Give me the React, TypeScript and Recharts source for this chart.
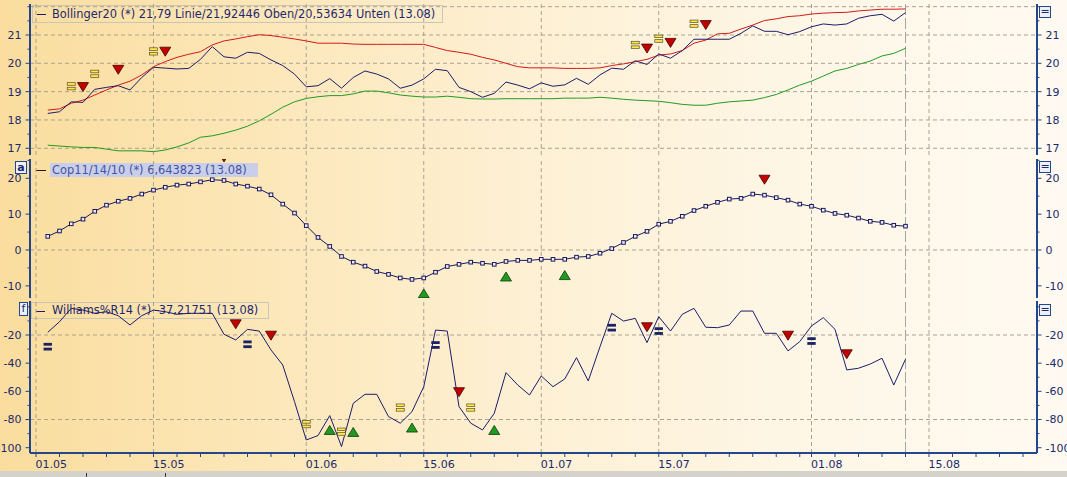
import React from 'react';
import { ComposedChart, Line, Scatter, XAxis, YAxis, ReferenceLine } from 'recharts';

// ---------- data ----------
const majorTickIdx = [0, 10, 23, 33, 43, 53, 66, 76];
const majorTickLabels = ['01.05', '15.05', '01.06', '15.06', '01.07', '15.07', '01.08', '15.08'];
const lastDayIdx = 74;

const closePrice = [
  18.23, 18.29, 18.64, 18.62, 19.08, 19.15, 19.21, 19.06, 19.5, 19.86,
  19.83, 19.8, 19.82, 20.14, 20.59, 20.23, 20.18, 20.39, 20.35, 20.12,
  19.92, 19.62, 19.17, 19.21, 19.46, 19.12, 19.5, 19.73, 19.62, 19.45,
  19.12, 19.23, 19.45, 19.79, 19.74, 19.15, 19.0, 18.8, 18.94, 19.34,
  19.23, 19.1, 19.31, 19.19, 19.24, 19.47, 19.26, 19.59, 19.83, 19.79,
  20.09, 19.96, 20.33, 20.18, 20.45, 20.85, 20.85, 20.85, 20.85, 21.06,
  21.32, 21.13, 21.13, 21.01, 21.12, 21.29, 21.39, 21.35, 21.39, 21.59,
  21.68, 21.73, 21.49, 21.79,
];
const upperBand = [
  18.35, 18.39, 18.59, 18.7, 18.88, 19.06, 19.23, 19.37, 19.59, 19.88,
  20.06, 20.21, 20.32, 20.41, 20.65, 20.79, 20.86, 20.94, 21.01, 20.98,
  20.92, 20.86, 20.79, 20.71, 20.71, 20.71, 20.68, 20.67, 20.67, 20.67,
  20.67, 20.67, 20.67, 20.56, 20.45, 20.39, 20.32, 20.21, 20.12, 20.0,
  19.88, 19.84, 19.84, 19.84, 19.82, 19.82, 19.82, 19.84, 19.92, 19.98,
  20.06, 20.14, 20.29, 20.33, 20.45, 20.71, 20.82, 21.04, 21.06, 21.21,
  21.35, 21.51, 21.57, 21.65, 21.68, 21.74, 21.77, 21.79, 21.8, 21.85,
  21.88, 21.91, 21.91, 21.92,
];
const lowerBand = [
  17.11, 17.08, 17.05, 17.03, 17.03, 16.97, 16.91, 16.91, 16.91, 16.88,
  16.94, 17.05, 17.19, 17.39, 17.44, 17.53, 17.64, 17.78, 17.97, 18.2,
  18.45, 18.64, 18.76, 18.82, 18.86, 18.86, 18.92, 19.02, 19.02, 18.96,
  18.88, 18.84, 18.81, 18.81, 18.84, 18.8, 18.75, 18.74, 18.74, 18.75,
  18.75, 18.75, 18.75, 18.75, 18.77, 18.77, 18.77, 18.8, 18.77, 18.73,
  18.7, 18.68, 18.66, 18.61, 18.55, 18.52, 18.52, 18.59, 18.64, 18.67,
  18.7, 18.79, 18.9, 19.06, 19.23, 19.37, 19.55, 19.73, 19.82, 19.96,
  20.08, 20.26, 20.35, 20.53,
];
const coppock = [
  3.8, 5.3, 7.3, 8.6, 10.8, 12.5, 13.6, 14.4, 15.6, 16.7,
  17.5, 18.1, 18.4, 19.0, 19.6, 19.4, 18.4, 17.8, 17.0, 15.4,
  12.8, 10.3, 6.8, 3.5, 1.0, -1.8, -3.4, -4.5, -6.0, -6.8,
  -7.8, -8.2, -7.8, -6.2, -4.6, -4.0, -3.4, -3.7, -4.0, -3.2,
  -2.9, -2.9, -2.6, -2.6, -2.6, -2.0, -1.8, -0.9, 0.4, 2.1,
  3.8, 5.2, 7.2, 8.0, 9.4, 11.0, 12.2, 13.3, 14.2, 14.4,
  15.6, 15.3, 14.6, 13.9, 12.8, 12.2, 11.1, 10.2, 9.7, 8.9,
  8.0, 7.7, 6.9, 6.64,
];
const williams = [
  -18.1, -10.6, -1.1, -2.3, -4.6, -3.5, -6.3, -12.9, -6.3, -2.3,
  -3.5, -5.3, -4.6, -4.6, -4.6, -19.5, -23.5, -16.0, -17.2, -30.6,
  -41.3, -67.3, -94.5, -91.4, -77.2, -99.2, -68.5, -62.1, -62.1, -77.9,
  -82.6, -74.4, -56.7, -16.5, -17.2, -70.8, -82.6, -87.4, -75.6, -46.7,
  -55.5, -62.6, -49.1, -56.7, -51.2, -36.1, -52.6, -28.3, -4.6, -10.1,
  -8.2, -25.4, -7.0, -17.2, -5.3, -1.1, -14.5, -14.8, -12.9, -3.0,
  -3.0, -18.8, -18.8, -31.3, -24.7, -13.6, -7.7, -16.0, -44.8, -43.6,
  -40.6, -36.5, -55.5, -37.2,
];

// signal markers: [day index, value]
const bollSell = [[4, 19.16], [7, 19.77], [11, 20.41], [52, 20.52], [54, 20.72], [57, 21.35]];
const bollNeutral = [[3, 19.19], [5, 19.63], [10, 20.42], [51, 20.65], [53, 20.87], [56, 21.4]];
const copBuy = [[33, -12.1], [40, -7.4], [45, -7.0]];
const copSell = [[16, 25.8], [62, 19.6]];
const wrSell = [[17, -12.4], [20, -20.5], [36, -60.6], [52, -14.5], [64, -20.5], [69, -33.7]];
const wrBuy = [[25, -87.4], [27, -88.8], [32, -85.7], [39, -87.4]];
const wrNeutralYellow = [[23, -83.3], [26, -88.6], [31, -71.5], [37, -71.5]];
const wrNeutralNavy = [[1, -28.3], [18, -26.6], [34, -27.1], [49, -14.8], [53, -17.2], [66, -24.3]];

const bollTicks = [17, 17.5, 18, 18.5, 19, 19.5, 20, 20.5, 21, 21.5, 22];
const bollLabels = [17, 18, 19, 20, 21];
const bollGrid = [17, 18, 19, 20, 21, 22];
const copTicks = [-10, -5, 0, 5, 10, 15, 20, 25];
const copLabels = [-10, 0, 10, 20];
const copGrid = [0];
const wrTicks = [-100, -90, -80, -70, -60, -50, -40, -30, -20, -10, 0];
const wrLabels = [-100, -80, -60, -40, -20];
const wrGrid = [-20, -80];

// ---------- style ----------
const FONT = '"DejaVu Sans", Verdana, sans-serif';
const BORDER = '#24468a';
const GRID = '#aaa291';
const AXIS_TEXT = '#1b2a6b';
const X_DOMAIN: [number, number] = [-0.51, 85.19];

const rows = closePrice.map((v, i) => ({
  x: i + 1,
  close: v,
  upper: upperBand[i],
  lower: lowerBand[i],
  cop: coppock[i],
  wr: williams[i],
}));
const toPts = (a: number[][]) => a.map(([x, y]) => ({ x, y }));

const minorX: number[] = [];
majorTickIdx.forEach((m, k) => {
  const next = k < majorTickIdx.length - 1 ? majorTickIdx[k + 1] : 85;
  for (let t = m; t < next; t += 2) minorX.push(t);
});

// ---------- shapes ----------
const triDown = (p: any) =>
  p.cx == null ? <g /> : (
    <path d={`M${p.cx - 5.5},${p.cy - 4.5}H${p.cx + 5.5}L${p.cx},${p.cy + 4.5}Z`} fill="#c20000" stroke="#480000" strokeWidth={0.8} />
  );
const triUp = (p: any) =>
  p.cx == null ? <g /> : (
    <path d={`M${p.cx - 5.5},${p.cy + 4.5}H${p.cx + 5.5}L${p.cx},${p.cy - 4.5}Z`} fill="#1f9a1f" stroke="#0b3a0b" strokeWidth={0.8} />
  );
const eqYellow = (p: any) =>
  p.cx == null ? <g /> : (
    <g>
      <rect x={p.cx - 4} y={p.cy - 3.6} width={8} height={2.6} fill="#ffe84a" stroke="#5a5020" strokeWidth={0.7} />
      <rect x={p.cx - 4} y={p.cy + 1} width={8} height={2.6} fill="#ffe84a" stroke="#5a5020" strokeWidth={0.7} />
    </g>
  );
const eqNavy = (p: any) =>
  p.cx == null ? <g /> : (
    <g>
      <rect x={p.cx - 4.2} y={p.cy - 3.8} width={8.4} height={2.8} fill="#1a2262" />
      <rect x={p.cx - 4.2} y={p.cy + 1} width={8.4} height={2.8} fill="#1a2262" />
    </g>
  );
const squareDot = (p: any) =>
  p.cx == null ? <g key={`d${p.index}`} /> : (
    <rect key={`d${p.index}`} x={p.cx - 1.8} y={p.cy - 1.8} width={3.6} height={3.6} fill="#f2eef6" stroke="#1a1a5e" strokeWidth={1} />
  );

const makeYTick = (side: 'l' | 'r', labels: number[]) => (p: any) => {
  const { x, y, payload } = p;
  const v = payload.value;
  const isMajor = labels.some((m) => Math.abs(m - v) < 1e-6);
  const dir = side === 'l' ? -1 : 1;
  const len = isMajor ? 4.5 : 2.5;
  return (
    <g>
      <line x1={x} x2={x + dir * len} y1={y} y2={y} stroke={BORDER} strokeWidth={1} />
      {isMajor && (
        <text x={x + dir * 8.5} y={y} dy="0.36em" textAnchor={side === 'l' ? 'end' : 'start'} fontSize={11} fill={AXIS_TEXT} fontFamily={FONT}>
          {v}
        </text>
      )}
    </g>
  );
};

const xTick = (p: any) => {
  const { x, y, payload } = p;
  const k = majorTickIdx.indexOf(payload.value);
  return (
    <g>
      <line x1={x} x2={x} y1={y} y2={y + 4} stroke={BORDER} strokeWidth={1} />
      {k >= 0 && (
        <text x={x - 0.5} y={y + 14.5} textAnchor="start" fontSize={11} fill={AXIS_TEXT} fontFamily={FONT}>
          {majorTickLabels[k]}
        </text>
      )}
    </g>
  );
};

const yAxes = (domain: [number, number], ticks: number[], labels: number[]) => [
  <YAxis key="yl" yAxisId="l" orientation="left" type="number" width={30} domain={domain} allowDataOverflow ticks={ticks} interval={0} tickSize={0} tickMargin={0} tickLine={false} axisLine={{ stroke: BORDER, strokeWidth: 2 }} tick={makeYTick('l', labels)} />,
  <YAxis key="yr" yAxisId="r" orientation="right" type="number" width={30} domain={domain} allowDataOverflow ticks={ticks} interval={0} tickSize={0} tickMargin={0} tickLine={false} axisLine={{ stroke: BORDER, strokeWidth: 2 }} tick={makeYTick('r', labels)} />,
];

const topAxis = () => (
  <XAxis key="xt" xAxisId="top" orientation="top" type="number" dataKey="x" domain={X_DOMAIN} allowDataOverflow height={0} tick={false} tickLine={false} axisLine={{ stroke: BORDER, strokeWidth: 2 }} />
);
const plainBottomAxis = () => (
  <XAxis key="xb" type="number" dataKey="x" domain={X_DOMAIN} allowDataOverflow height={0} tick={false} tickLine={false} axisLine={{ stroke: BORDER, strokeWidth: 2 }} />
);

const grid = (hValues: number[]) => [
  ...majorTickIdx.map((m) => (
    <ReferenceLine key={`vg${m}`} x={m} yAxisId="l" stroke={GRID} strokeDasharray="4 3" strokeWidth={1} />
  )),
  ...hValues.map((v) => (
    <ReferenceLine key={`hg${v}`} y={v} yAxisId="l" stroke={GRID} strokeDasharray="4 3" strokeWidth={1} />
  )),
  <ReferenceLine key="today" x={lastDayIdx} yAxisId="l" stroke="#a4a4a4" strokeDasharray="11 3" strokeWidth={1} />,
];

const legendBox: React.CSSProperties = {
  position: 'absolute',
  border: '1px solid #cbc5b6',
  boxSizing: 'border-box',
};
const legendText: React.CSSProperties = {
  position: 'absolute',
  fontFamily: FONT,
  fontSize: 11.4,
  whiteSpace: 'nowrap',
};
const sideBox = (left: number, top: number, w: number, h: number, text: string, bold: boolean) => (
  <div
    style={{
      position: 'absolute',
      left,
      top,
      width: w,
      height: h,
      boxSizing: 'border-box',
      border: `1px solid ${BORDER}`,
      background: '#eef0f9',
      color: '#1b2a6b',
      fontFamily: FONT,
      fontSize: 11,
      fontWeight: bold ? 'bold' : 'normal',
      lineHeight: `${h - 2}px`,
      textAlign: 'center',
    }}
  >
    {text}
  </div>
);

export default function App() {
  return (
    <div style={{ position: 'absolute', left: 0, top: 0, width: 1067, height: 477, overflow: 'hidden', fontFamily: FONT }}>
      <div
        style={{
          position: 'absolute',
          left: 0,
          top: 0,
          width: 1067,
          height: 477,
          background: 'linear-gradient(90deg, #fadd9e 0%, #fce6b6 22%, #fdf0d4 50%, #fef7e8 78%, #fffaf1 100%)',
        }}
      />
      {/* legends (behind the plot lines) */}
      <div style={{ ...legendBox, left: 32, top: 5, width: 411, height: 18 }} />
      <div style={{ position: 'absolute', left: 37, top: 14, width: 9, height: 1, background: '#1c1c6c' }} />
      <div style={{ ...legendText, left: 52, top: 5, lineHeight: '18px', color: '#1e2870' }}>
        Bollinger20 (*) 21,79 Linie/21,92446 Oben/20,53634 Unten (13.08)
      </div>

      <div style={{ position: 'absolute', left: 50, top: 163, width: 208, height: 14, background: '#c9cee9' }} />
      <div style={{ position: 'absolute', left: 36, top: 170, width: 10, height: 1, background: '#3c0b0b' }} />
      <div style={{ ...legendText, left: 52, top: 162, lineHeight: '16px', color: '#4553a6' }}>
        Cop11/14/10 (*) 6,643823 (13.08)
      </div>

      <div style={{ ...legendBox, left: 31, top: 302, width: 238, height: 17 }} />
      <div style={{ position: 'absolute', left: 36, top: 311, width: 9, height: 1, background: '#1c1c6c' }} />
      <div style={{ ...legendText, left: 52, top: 302, lineHeight: '17px', color: '#1e2870' }}>
        Williams%R14 (*) -37,21751 (13.08)
      </div>

      {/* Bollinger panel */}
      <div style={{ position: 'absolute', left: 0, top: 0 }}>
        <ComposedChart width={1067} height={157} data={rows} margin={{ top: 4, right: 0, bottom: 2, left: 0 }}>
          {plainBottomAxis()}
          {topAxis()}
          {yAxes([16.763, 22.094], bollTicks, bollLabels)}
          {grid(bollGrid)}
          <Line yAxisId="l" dataKey="lower" stroke="#239a23" strokeWidth={1} dot={false} isAnimationActive={false} />
          <Line yAxisId="l" dataKey="upper" stroke="#d21a1a" strokeWidth={1} dot={false} isAnimationActive={false} />
          <Line yAxisId="l" dataKey="close" stroke="#1c1c6c" strokeWidth={1} dot={false} isAnimationActive={false} />
          <Scatter yAxisId="l" data={toPts(bollNeutral)} dataKey="y" shape={eqYellow} isAnimationActive={false} />
          <Scatter yAxisId="l" data={toPts(bollSell)} dataKey="y" shape={triDown} isAnimationActive={false} />
        </ComposedChart>
      </div>

      {/* Coppock panel */}
      <div style={{ position: 'absolute', left: 0, top: 157 }}>
        <ComposedChart width={1067} height={143} data={rows} margin={{ top: 2, right: 0, bottom: 2, left: 0 }}>
          {plainBottomAxis()}
          {topAxis()}
          {yAxes([-13.39, 25.38], copTicks, copLabels)}
          {grid(copGrid)}
          <Line yAxisId="l" dataKey="cop" stroke="#1a1a5e" strokeWidth={1} dot={squareDot} isAnimationActive={false} />
          <Scatter yAxisId="l" data={toPts(copBuy)} dataKey="y" shape={triUp} isAnimationActive={false} />
          <Scatter yAxisId="l" data={toPts(copSell)} dataKey="y" shape={triDown} isAnimationActive={false} />
        </ComposedChart>
      </div>

      {/* Williams %R panel */}
      <div style={{ position: 'absolute', left: 0, top: 299 }}>
        <ComposedChart width={1067} height={178} data={rows} margin={{ top: 2, right: 0, bottom: 6, left: 0 }}>
          <XAxis
            type="number"
            dataKey="x"
            domain={X_DOMAIN}
            allowDataOverflow
            height={18}
            ticks={minorX}
            interval={0}
            tickSize={0}
            tickMargin={0}
            tickLine={false}
            axisLine={{ stroke: BORDER, strokeWidth: 2 }}
            tick={xTick}
          />
          {topAxis()}
          {yAxes([-103.76, 4.13], wrTicks, wrLabels)}
          {grid(wrGrid)}
          <Line yAxisId="l" dataKey="wr" stroke="#1c1c6c" strokeWidth={1} dot={false} isAnimationActive={false} />
          <Scatter yAxisId="l" data={toPts(wrNeutralNavy)} dataKey="y" shape={eqNavy} isAnimationActive={false} />
          <Scatter yAxisId="l" data={toPts(wrNeutralYellow)} dataKey="y" shape={eqYellow} isAnimationActive={false} />
          <Scatter yAxisId="l" data={toPts(wrSell)} dataKey="y" shape={triDown} isAnimationActive={false} />
          <Scatter yAxisId="l" data={toPts(wrBuy)} dataKey="y" shape={triUp} isAnimationActive={false} />
        </ComposedChart>
      </div>

      {/* panel side buttons */}
      {sideBox(15, 161, 12, 13, 'a', true)}
      {sideBox(19, 302, 9, 14, 'f', false)}
      {sideBox(1039, 6, 12, 12, '=', false)}
      {sideBox(1039, 161, 12, 12, '=', false)}
      {sideBox(1039, 304, 12, 12, '=', false)}

      {/* bottom scroll strip */}
      <div style={{ position: 'absolute', left: 0, top: 471, width: 1067, height: 6, background: '#d5d2cc' }} />
      <div style={{ position: 'absolute', left: 86, top: 473, width: 1, height: 4, background: '#333' }} />
      <div style={{ position: 'absolute', left: 165, top: 473, width: 1, height: 4, background: '#333' }} />
    </div>
  );
}
